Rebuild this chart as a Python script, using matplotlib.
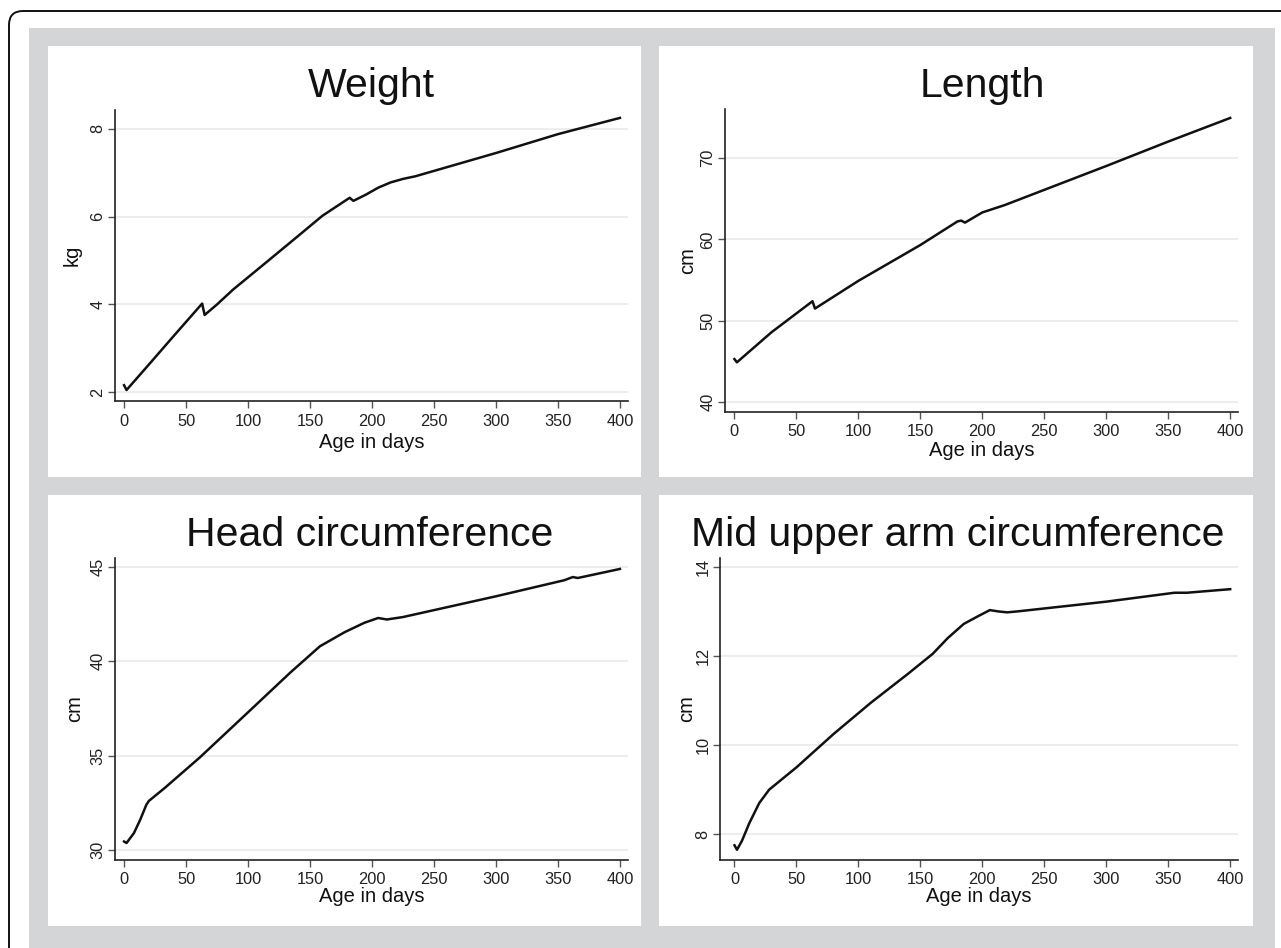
import matplotlib
matplotlib.use('Agg')
import matplotlib.pyplot as plt
from matplotlib.patches import Rectangle, FancyBboxPatch

plt.rcParams['font.family'] = ['Liberation Sans', 'DejaVu Sans']

W, H = 1281, 948

# data
weight_days = [0, 2, 20, 40, 63, 65, 75, 88, 110, 140, 160, 175, 182, 185, 195, 205, 215, 225, 235, 300, 350, 400]
weight_kg = [2.16, 2.05, 2.63, 3.28, 4.02, 3.76, 4.0, 4.34, 4.85, 5.55, 6.02, 6.3, 6.43, 6.36, 6.5, 6.66, 6.78, 6.86, 6.92, 7.45, 7.88, 8.25]

length_days = [0, 2, 30, 63, 65, 100, 150, 180, 183, 186, 200, 218, 300, 350, 400]
length_cm = [45.3, 44.9, 48.6, 52.4, 51.5, 54.9, 59.3, 62.2, 62.3, 62.05, 63.3, 64.2, 69.0, 72.0, 74.9]

head_days = [0, 2, 8, 13, 18, 20, 33, 61, 100, 134, 158, 178, 194, 205, 212, 225, 300, 355, 362, 366, 400]
head_cm = [30.45, 30.37, 30.9, 31.6, 32.4, 32.6, 33.3, 34.9, 37.3, 39.4, 40.8, 41.55, 42.05, 42.3, 42.22, 42.35, 43.45, 44.3, 44.47, 44.42, 44.9]

muac_days = [0, 2, 6, 12, 20, 28, 50, 80, 110, 140, 160, 172, 185, 197, 206, 213, 220, 228, 300, 355, 365, 400]
muac_cm = [7.75, 7.65, 7.85, 8.25, 8.7, 9.0, 9.5, 10.25, 10.95, 11.6, 12.05, 12.4, 12.72, 12.9, 13.03, 13.0, 12.98, 13.0, 13.22, 13.42, 13.42, 13.5]

x_ticks = [0, 50, 100, 150, 200, 250, 300, 350, 400]
weight_ticks = [2, 4, 6, 8]
length_ticks = [40, 50, 60, 70]
head_ticks = [30, 35, 40, 45]
muac_ticks = [8, 10, 12, 14]


def px_axes(fig, left, top, right, bottom):
    return fig.add_axes([left / W, 1 - bottom / H, (right - left) / W, (bottom - top) / H])


def growth_panel(ax, days, values, yticks, xlim, ylim, ylabel, ylab_x, xlab_y):
    for t in yticks:
        ax.axhline(t, color='#ececec', lw=1.3, zorder=1)
    ax.plot(days, values, color='#111111', lw=1.8, zorder=3)
    ax.set_xlim(*xlim)
    ax.set_ylim(*ylim)
    ax.set_xticks(x_ticks)
    ax.set_yticks(yticks)
    ax.set_yticklabels([str(t) for t in yticks], rotation=90, va='center')
    ax.tick_params(direction='out', length=5, width=1, color='#555555',
                   labelsize=11.8, labelcolor='#222222', pad=4)
    ax.tick_params(axis='y', pad=2)
    for s in ['top', 'right']:
        ax.spines[s].set_visible(False)
    for s in ['left', 'bottom']:
        ax.spines[s].set_color('#222222')
        ax.spines[s].set_linewidth(1.2)
    ax.set_xlabel('Age in days', fontsize=14.5, color='#111111')
    ax.set_ylabel(ylabel, fontsize=14.5, color='#111111', va='center')
    ax.xaxis.set_label_coords(0.5, xlab_y)
    ax.yaxis.set_label_coords(ylab_x, 0.5)


fig = plt.figure(figsize=(W / 100, H / 100), dpi=100)
bg = fig.add_axes([0, 0, 1, 1])
bg.set_xlim(0, W)
bg.set_ylim(H, 0)
bg.axis('off')
bg.add_patch(FancyBboxPatch((9, 11), 1400, 1100, boxstyle='round,pad=0,rounding_size=14',
                            fc='white', ec='#111111', lw=1.4))
bg.add_patch(Rectangle((29, 28), 1246, 940, fc='#d4d5d7', ec='none'))
for (x0, y0, w, h) in [(48, 46, 593, 431), (659, 46, 594, 431), (48, 495, 593, 431), (659, 495, 594, 431)]:
    bg.add_patch(Rectangle((x0, y0), w, h, fc='white', ec='none'))

bg.text(371, 97, 'Weight', ha='center', va='baseline', fontsize=29.5, color='#111111')
bg.text(982, 97, 'Length', ha='center', va='baseline', fontsize=29.5, color='#111111')
bg.text(370, 546, 'Head circumference', ha='center', va='baseline', fontsize=29.5, color='#111111')
bg.text(958, 546, 'Mid upper arm circumference', ha='center', va='baseline', fontsize=29.5, color='#111111')

ax1 = px_axes(fig, 115, 110, 628, 401)
growth_panel(ax1, weight_days, weight_kg, weight_ticks, (-7.3, 406.5), (1.8, 8.43), 'kg',
             (72 - 115) / 513, (401 - 433) / 291)

ax2 = px_axes(fig, 725, 109, 1238, 412)
growth_panel(ax2, length_days, length_cm, length_ticks, (-7.6, 406.3), (38.8, 76.0), 'cm',
             (688 - 725) / 513, (412 - 441) / 303)

ax3 = px_axes(fig, 115, 558, 628, 860)
growth_panel(ax3, head_days, head_cm, head_ticks, (-7.3, 406.5), (29.47, 45.48), 'cm',
             (75 - 115) / 513, (860 - 887) / 302)

ax4 = px_axes(fig, 720, 558, 1238, 860)
growth_panel(ax4, muac_days, muac_cm, muac_ticks, (-11.7, 406.3), (7.42, 14.2), 'cm',
             (687 - 720) / 518, (860 - 887) / 302)

fig.savefig('out.png', dpi=100)
